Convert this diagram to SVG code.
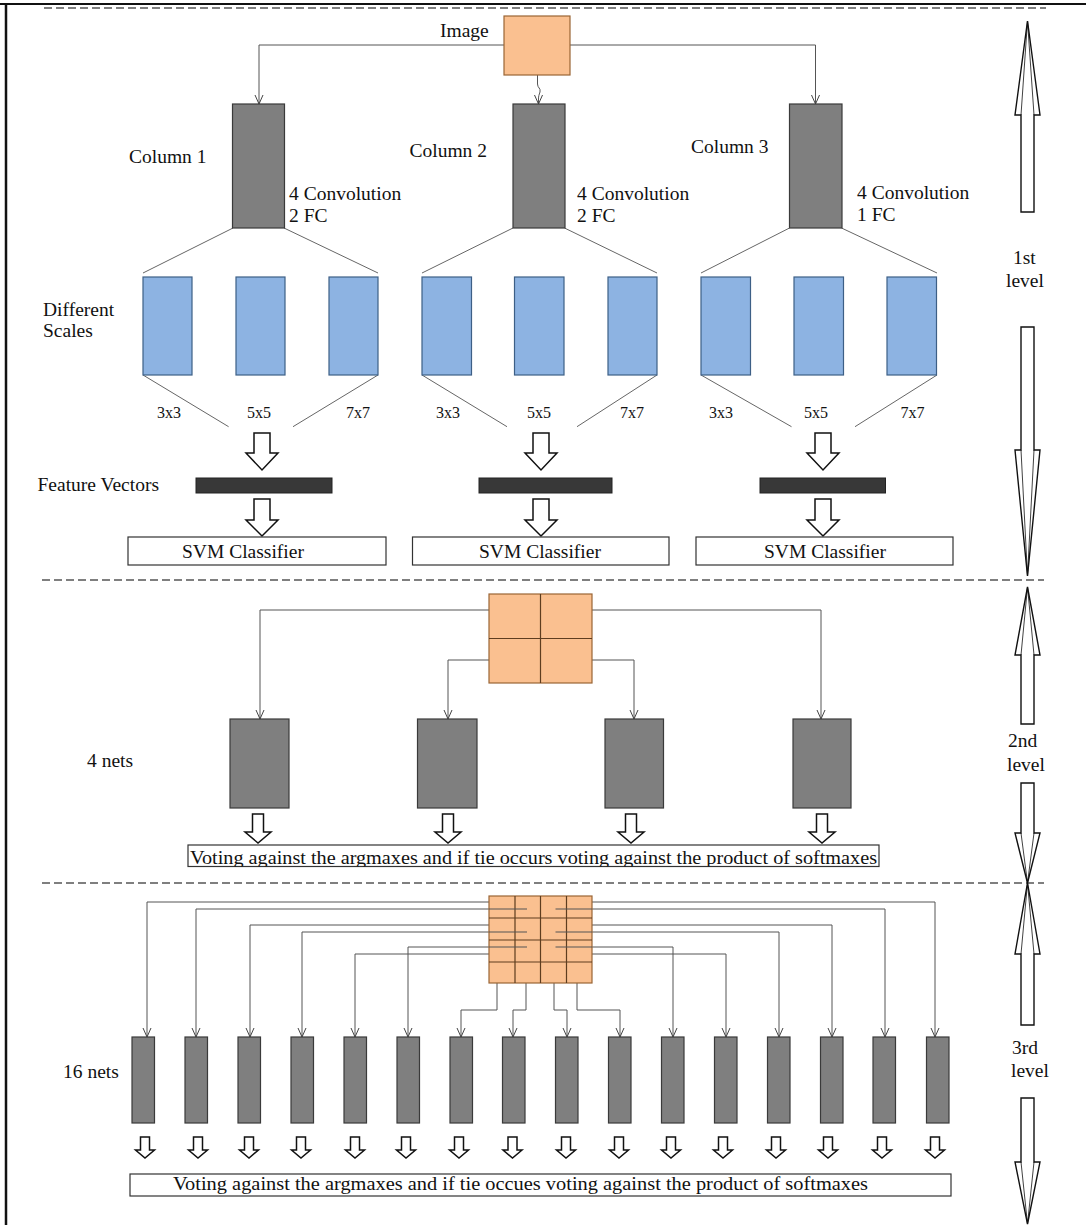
<svg xmlns="http://www.w3.org/2000/svg" width="1086" height="1225" viewBox="0 0 1086 1225">
<style>
.t{font-family:"Liberation Serif","Times New Roman",serif;font-size:19.5px;fill:#111}
.s{font-size:16px}
.dark{fill:#7f7f7f;stroke:#3a3a3a;stroke-width:1.2}
.blue{fill:#8db3e2;stroke:#3d5f86;stroke-width:1.2}
.org{fill:#fac090;stroke:#9a6535;stroke-width:1.2}
.grid{stroke:#5e3d1f;stroke-width:1.2;fill:none}
.bar{fill:#383838;stroke:#222;stroke-width:1}
.box{fill:#fff;stroke:#333;stroke-width:1.2}
.con{fill:none;stroke:#555;stroke-width:1;marker-end:url(#v)}
.ln{fill:none;stroke:#555;stroke-width:1}
.diag{stroke:#666;stroke-width:1;fill:none}
.blk{fill:#fff;stroke:#111;stroke-width:1.5;stroke-linejoin:miter}
.lvl{fill:#fff;stroke:#111;stroke-width:1.4}
.in{stroke:#111;stroke-width:0.8;fill:none}
.dash{stroke:#555;stroke-width:1.3;stroke-dasharray:8 4;fill:none}
.frame{stroke:#111;fill:none}
</style>
<defs>
<marker id="v" markerUnits="userSpaceOnUse" markerWidth="12" markerHeight="12" viewBox="0 0 12 10" refX="10" refY="5" orient="auto">
<path d="M1,1 L10,5 L1,9" fill="none" stroke="#444" stroke-width="1"/>
</marker>
<clipPath id="clipV"><rect x="188" y="845" width="691" height="21.5"/></clipPath>
</defs>

<g id="frame">
<line class="frame" x1="0" y1="4" x2="1086" y2="4" stroke-width="2"/>
<line class="frame" x1="6" y1="3" x2="6" y2="1225" stroke-width="2.5"/>
<line class="dash" x1="44" y1="8" x2="1046" y2="8"/>
<line class="dash" x1="42" y1="580" x2="1044" y2="580"/>
<line class="dash" x1="42" y1="883" x2="1044" y2="883"/>
</g>

<g id="connectors">
<!-- level 1 -->
<path class="con" d="M504,45 H259 V104"/>
<path class="con" d="M570,45 H815.5 V104"/>
<path class="con" d="M537.5,75 V84 C537.5,88 541,88 540,92 C539,95 538.5,96 538.5,99 V104"/>
<path class="diag" d="M233,228 L143,273 M284,228 L378,273 M513,228 L422,273 M564.5,228 L657,273 M789.5,228 L701,273 M841.5,228 L937,273"/>
<path class="diag" d="M143,375 L228.6,426.7 M378,375 L293,426.7 M422,375 L507,426.7 M657,375 L577,426.7 M701,375 L791.5,426.7 M937,375 L855,426.7"/>
<!-- level 2 -->
<path class="con" d="M489,610 H260 V719"/>
<path class="con" d="M592,610 H821 V719"/>
<path class="con" d="M489,660 H448 V719"/>
<path class="con" d="M592,660 H634 V719"/>
<!-- level 3 -->
<path class="con" d="M489,902 H147 V1037"/>
<path class="con" d="M527,909 H196 V1037"/>
<path class="con" d="M489,925 H250 V1037"/>
<path class="con" d="M527,932 H302 V1037"/>
<path class="con" d="M489,954 H355 V1037"/>
<path class="con" d="M527,947 H408 V1037"/>
<path class="con" d="M497,983 V1010 H461 V1037"/>
<path class="con" d="M526,983 V1010 H513 V1037"/>
<path class="con" d="M554,983 V1010 H567 V1037"/>
<path class="con" d="M577,983 V1010 H620 V1037"/>
<path class="con" d="M555.5,947 H673 V1037"/>
<path class="con" d="M592,954 H726 V1037"/>
<path class="con" d="M555.5,932 H779 V1037"/>
<path class="con" d="M592,925 H832 V1037"/>
<path class="con" d="M555.5,909 H885 V1037"/>
<path class="con" d="M592,902 H935 V1037"/>
</g>

<g id="image">
<rect class="org" x="504" y="16" width="66" height="59"/>
<text class="t" x="440" y="36.5">Image</text>
</g>

<g id="column1">
<rect class="dark" x="232.5" y="104" width="52" height="124"/>
<text class="t" x="129" y="163">Column 1</text>
<text class="t" x="289" y="200">4 Convolution</text>
<text class="t" x="289" y="222">2 FC</text>
</g>
<g id="column2">
<rect class="dark" x="513" y="104" width="52" height="124"/>
<text class="t" x="409.5" y="157">Column 2</text>
<text class="t" x="577" y="200">4 Convolution</text>
<text class="t" x="577" y="222">2 FC</text>
</g>
<g id="column3">
<rect class="dark" x="789.5" y="104" width="52.5" height="124"/>
<text class="t" x="691" y="153">Column 3</text>
<text class="t" x="857" y="199">4 Convolution</text>
<text class="t" x="857" y="221">1 FC</text>
</g>

<g id="scales">
<text class="t" x="43" y="316">Different</text>
<text class="t" x="43" y="337">Scales</text>
<rect class="blue" x="143" y="277" width="49" height="98"/>
<rect class="blue" x="236" y="277" width="49" height="98"/>
<rect class="blue" x="329" y="277" width="49" height="98"/>
<rect class="blue" x="422" y="277" width="49.5" height="98"/>
<rect class="blue" x="514.5" y="277" width="49.5" height="98"/>
<rect class="blue" x="608" y="277" width="49" height="98"/>
<rect class="blue" x="701" y="277" width="49.5" height="98"/>
<rect class="blue" x="794" y="277" width="49.5" height="98"/>
<rect class="blue" x="887" y="277" width="49.5" height="98"/>
<text class="t s" x="157" y="418">3x3</text>
<text class="t s" x="247" y="418">5x5</text>
<text class="t s" x="346" y="418">7x7</text>
<text class="t s" x="436" y="418">3x3</text>
<text class="t s" x="527" y="418">5x5</text>
<text class="t s" x="620" y="418">7x7</text>
<text class="t s" x="709" y="418">3x3</text>
<text class="t s" x="804" y="418">5x5</text>
<text class="t s" x="900.5" y="418">7x7</text>
</g>

<g id="features">
<text class="t" x="37.5" y="491">Feature Vectors</text>
<path class="blk" d="M254,433 H270 V453 H278 L262,470 L246,453 H254 Z"/>
<path class="blk" d="M533,433 H549 V453 H557 L541,470 L525,453 H533 Z"/>
<path class="blk" d="M815,433 H831 V453 H839 L823,470 L807,453 H815 Z"/>
<rect class="bar" x="196" y="478" width="136" height="15"/>
<rect class="bar" x="479" y="478" width="133" height="15"/>
<rect class="bar" x="760" y="478" width="125.5" height="15"/>
<path class="blk" d="M254,499 H270 V520 H278 L262,536 L246,520 H254 Z"/>
<path class="blk" d="M533,499 H549 V520 H557 L541,536 L525,520 H533 Z"/>
<path class="blk" d="M815,499 H831 V520 H839 L823,536 L807,520 H815 Z"/>
</g>

<g id="svm">
<rect class="box" x="128" y="537" width="258" height="28"/>
<rect class="box" x="412.5" y="537" width="256.5" height="28"/>
<rect class="box" x="696" y="537" width="257" height="28"/>
<text class="t" x="182" y="558">SVM Classifier</text>
<text class="t" x="479" y="558">SVM Classifier</text>
<text class="t" x="764" y="558">SVM Classifier</text>
</g>

<g id="level2">
<rect class="org" x="489" y="594" width="103" height="89"/>
<path class="grid" d="M540.5,594 V683 M489,638.5 H592"/>
<text class="t" x="87" y="767">4 nets</text>
<rect class="dark" x="230" y="719" width="59" height="89"/>
<rect class="dark" x="417.5" y="719" width="59.5" height="89"/>
<rect class="dark" x="605" y="719" width="58.5" height="89"/>
<rect class="dark" x="793" y="719" width="58" height="89"/>
<path class="blk" d="M252.5,814 H263.5 V832 H271 L258,843 L245,832 H252.5 Z"/>
<path class="blk" d="M442.5,814 H453.5 V832 H461 L448,843 L435,832 H442.5 Z"/>
<path class="blk" d="M625.5,814 H636.5 V832 H644 L631,843 L618,832 H625.5 Z"/>
<path class="blk" d="M816.5,814 H827.5 V832 H835 L822,843 L809,832 H816.5 Z"/>
<rect class="box" x="188" y="845" width="691" height="21.5"/>
<text class="t" x="190" y="864" font-size="22" textLength="687" lengthAdjust="spacingAndGlyphs" clip-path="url(#clipV)">Voting against the argmaxes and if tie occurs voting against the product of softmaxes</text>
</g>

<g id="level3">
<rect class="org" x="489" y="896" width="103" height="87"/>
<path class="grid" d="M515,896 V983 M540.5,896 V983 M566.5,896 V983 M489,918 H592 M489,940 H592 M489,962 H592"/>
<path class="ln" d="M489,909 H527 M489,932 H527 M489,947 H527 M555.5,909 H592 M555.5,932 H592 M555.5,947 H592" stroke="#4a3320"/>
<text class="t" x="63" y="1078">16 nets</text>
<g id="nets16">
<rect class="dark" x="132" y="1037" width="22.5" height="86"/>
<rect class="dark" x="185" y="1037" width="22.5" height="86"/>
<rect class="dark" x="238" y="1037" width="22.5" height="86"/>
<rect class="dark" x="291" y="1037" width="22.5" height="86"/>
<rect class="dark" x="344" y="1037" width="22.5" height="86"/>
<rect class="dark" x="397" y="1037" width="22.5" height="86"/>
<rect class="dark" x="450" y="1037" width="22.5" height="86"/>
<rect class="dark" x="502.5" y="1037" width="22.5" height="86"/>
<rect class="dark" x="555.5" y="1037" width="22.5" height="86"/>
<rect class="dark" x="608.5" y="1037" width="22.5" height="86"/>
<rect class="dark" x="661.5" y="1037" width="22.5" height="86"/>
<rect class="dark" x="714.5" y="1037" width="22.5" height="86"/>
<rect class="dark" x="767.5" y="1037" width="22.5" height="86"/>
<rect class="dark" x="820.5" y="1037" width="22.5" height="86"/>
<rect class="dark" x="873" y="1037" width="22.5" height="86"/>
<rect class="dark" x="926.5" y="1037" width="22.5" height="86"/>
</g>
<g id="outs16">
<path class="blk" d="M140.5,1137 H149.5 V1150 H154.5 L145,1158 L135.5,1150 H140.5 Z"/>
<path class="blk" d="M193.5,1137 H202.5 V1150 H207.5 L198,1158 L188.5,1150 H193.5 Z"/>
<path class="blk" d="M244.5,1137 H253.5 V1150 H258.5 L249,1158 L239.5,1150 H244.5 Z"/>
<path class="blk" d="M296.5,1137 H305.5 V1150 H310.5 L301,1158 L291.5,1150 H296.5 Z"/>
<path class="blk" d="M350.5,1137 H359.5 V1150 H364.5 L355,1158 L345.5,1150 H350.5 Z"/>
<path class="blk" d="M401.5,1137 H410.5 V1150 H415.5 L406,1158 L396.5,1150 H401.5 Z"/>
<path class="blk" d="M454.5,1137 H463.5 V1150 H468.5 L459,1158 L449.5,1150 H454.5 Z"/>
<path class="blk" d="M508,1137 H517 V1150 H522 L512.5,1158 L503,1150 H508 Z"/>
<path class="blk" d="M561.5,1137 H570.5 V1150 H575.5 L566,1158 L556.5,1150 H561.5 Z"/>
<path class="blk" d="M614.5,1137 H623.5 V1150 H628.5 L619,1158 L609.5,1150 H614.5 Z"/>
<path class="blk" d="M666.5,1137 H675.5 V1150 H680.5 L671,1158 L661.5,1150 H666.5 Z"/>
<path class="blk" d="M718.5,1137 H727.5 V1150 H732.5 L723,1158 L713.5,1150 H718.5 Z"/>
<path class="blk" d="M771.5,1137 H780.5 V1150 H785.5 L776,1158 L766.5,1150 H771.5 Z"/>
<path class="blk" d="M823.5,1137 H832.5 V1150 H837.5 L828,1158 L818.5,1150 H823.5 Z"/>
<path class="blk" d="M877.5,1137 H886.5 V1150 H891.5 L882,1158 L872.5,1150 H877.5 Z"/>
<path class="blk" d="M930.5,1137 H939.5 V1150 H944.5 L935,1158 L925.5,1150 H930.5 Z"/>
</g>
<rect class="box" x="130" y="1174" width="821" height="22"/>
<text class="t" x="173" y="1190" font-size="19" textLength="695" lengthAdjust="spacingAndGlyphs">Voting against the argmaxes and if tie occues voting against the product of softmaxes</text>
</g>

<g id="levels">
<path class="lvl" d="M1027.5,21 L1040,115 H1034 V212 H1021 V115 H1015 Z"/>
<path class="in" d="M1021,115 L1027.5,21 L1034,115"/>
<text class="t" x="1013" y="264">1st</text>
<text class="t" x="1006" y="287">level</text>
<path class="lvl" d="M1021,327 H1034 V450 H1040 L1027.5,576 L1015,450 H1021 Z"/>
<path class="in" d="M1021,450 L1027.5,576 L1034,450"/>
<path class="lvl" d="M1027.5,587 L1040,655 H1034 V724 H1021 V655 H1015 Z"/>
<path class="in" d="M1021,655 L1027.5,587 L1034,655"/>
<text class="t" x="1008" y="747">2nd</text>
<text class="t" x="1007" y="771">level</text>
<path class="lvl" d="M1021,783 H1034 V833 H1040 L1027.5,883 L1015,833 H1021 Z"/>
<path class="in" d="M1021,833 L1027.5,883 L1034,833"/>
<path class="lvl" d="M1027.5,883 L1040,954 H1034 V1025 H1021 V954 H1015 Z"/>
<path class="in" d="M1021,954 L1027.5,883 L1034,954"/>
<text class="t" x="1012" y="1054">3rd</text>
<text class="t" x="1011" y="1077">level</text>
<path class="lvl" d="M1021,1098 H1034 V1162 H1040 L1027.5,1224 L1015,1162 H1021 Z"/>
<path class="in" d="M1021,1162 L1027.5,1224 L1034,1162"/>
</g>
</svg>
